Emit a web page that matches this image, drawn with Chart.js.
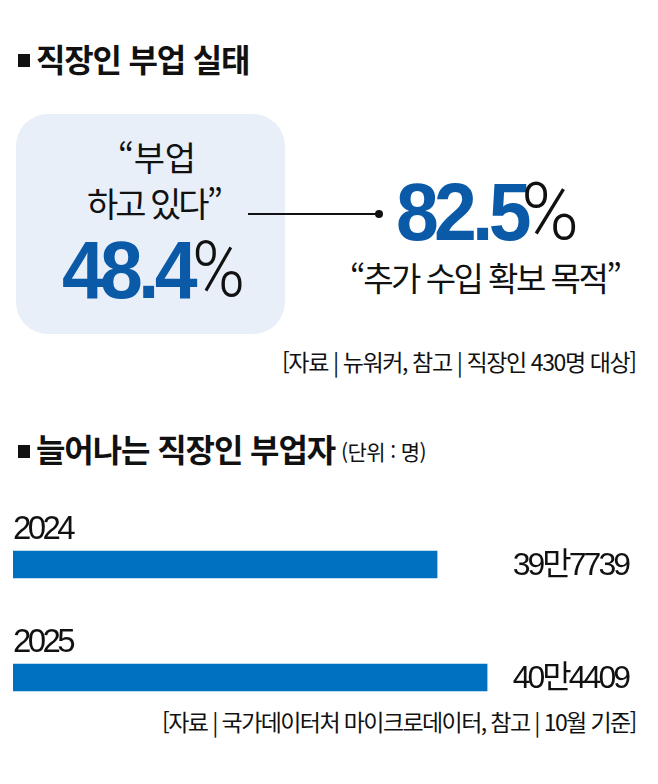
<!DOCTYPE html>
<html lang="ko"><head><meta charset="utf-8">
<script src="https://cdn.jsdelivr.net/npm/chart.js@4"></script>
<style>
html,body{margin:0;padding:0;background:#fff;width:658px;height:784px;overflow:hidden}
#wrap{position:relative;width:658px;height:784px}
canvas{position:absolute;left:0;top:0}
.t{position:absolute;white-space:nowrap;color:#111;font-family:"Noto Sans CJK KR","Noto Sans",sans-serif;line-height:1;}
.big{color:#0b5aa8;font-weight:700;font-family:"Liberation Sans",Arial,sans-serif;letter-spacing:-5px;transform:scaleX(.95);transform-origin:left top}
.pct{color:#111;font-weight:300;font-family:Roboto,"Liberation Sans",sans-serif;transform-origin:left top}
#box{position:absolute;left:16px;top:114px;width:269px;height:220px;border-radius:32px;background:#e8eff9}
#dash{position:absolute;left:248px;top:213px;width:130px;height:1.5px;background:#111}
#dot{position:absolute;left:375px;top:210px;width:8px;height:8px;border-radius:50%;background:#111}
.sq{position:absolute;background:#111;width:12px;height:13px}
</style></head><body>
<div id="wrap">
<div id="box"></div><div id="dash"></div><div id="dot"></div>
<div class="sq" style="left:18px;top:54px"></div>
<div class="t" style="left:36px;top:42px;font-size:32px;font-weight:700;letter-spacing:-1.2px">직장인 부업 실태</div>
<div class="t" style="left:118px;top:140px;font-size:34px;letter-spacing:-.4px">“부업</div>
<div class="t" style="left:87px;top:186px;font-size:34px;letter-spacing:-3px">하고 있다”</div>
<div class="t big" id="v1" style="left:62px;top:230px;font-size:81px"></div>
<div class="t pct" id="p1" style="left:192px;top:231px;font-size:78px;transform:scaleX(.92)">%</div>
<div class="t big" id="v2" style="left:396px;top:172px;font-size:81px"></div>
<div class="t pct" id="p2" style="left:521px;top:172px;font-size:80px;transform:scaleX(.98)">%</div>
<div class="t" style="left:350px;top:261px;font-size:33px;letter-spacing:-2.5px">“추가 수입 확보 목적”</div>
<div class="t" style="left:282px;top:350px;font-size:23px;letter-spacing:-1.4px">[자료 | 뉴워커, 참고 | 직장인 430명 대상]</div>
<div class="sq" style="left:18px;top:445px"></div>
<div class="t" style="left:36px;top:432px;font-size:32px;font-weight:700;letter-spacing:-1.1px">늘어나는 직장인 부업자</div>
<div class="t" style="left:341px;top:441px;font-size:21px;letter-spacing:-.6px">(단위 : 명)</div>
<div class="t" style="left:162px;top:710px;font-size:23px;letter-spacing:-1.6px">[자료 | 국가데이터처 마이크로데이터, 참고 | 10월 기준]</div>
<canvas id="c" width="658" height="784"></canvas>
</div>
<script>
const years = ['2024', '2025'];
const workers = [397739, 404409];
const workerLabels = ['39만7739', '40만4409'];
const sideJobShare = '48.4';
const extraIncomeShare = '82.5';

document.getElementById('v1').textContent = sideJobShare;
document.getElementById('v2').textContent = extraIncomeShare;

const tightText = {
  id: 'tightText',
  beforeDraw(chart) { chart.ctx.letterSpacing = '-3.6px'; }
};

const valueLabels = {
  id: 'valueLabels',
  afterDatasetsDraw(chart) {
    const { ctx } = chart;
    const meta = chart.getDatasetMeta(0);
    ctx.save();
    ctx.fillStyle = '#111';
    ctx.font = '400 32px "Liberation Sans","Noto Sans CJK KR",sans-serif';
    ctx.letterSpacing = '-3px';
    ctx.textAlign = 'right';
    ctx.textBaseline = 'middle';
    meta.data.forEach((bar, i) => ctx.fillText(workerLabels[i], 628, bar.y + 2));
    ctx.restore();
  }
};

new Chart(document.getElementById('c'), {
  type: 'bar',
  data: { labels: years, datasets: [{ data: workers, backgroundColor: '#0070c0', barThickness: 27, borderSkipped: false, grouped: false }] },
  plugins: [tightText, valueLabels],
  options: {
    indexAxis: 'y', responsive: false, animation: false,
    layout: { padding: { left: 5, right: 0, top: 508, bottom: 50 } },
    plugins: { legend: { display: false }, tooltip: { enabled: false }, title: { display: false } },
    scales: {
      x: { display: false, min: 341200, max: 427200 },
      y: {
        grid: { display: false }, border: { display: false },
        ticks: { mirror: true, padding: 0, labelOffset: -35, color: '#111',
          font: { family: '"Liberation Sans",sans-serif', size: 33 } }
      }
    }
  }
});
</script>
</body></html>
